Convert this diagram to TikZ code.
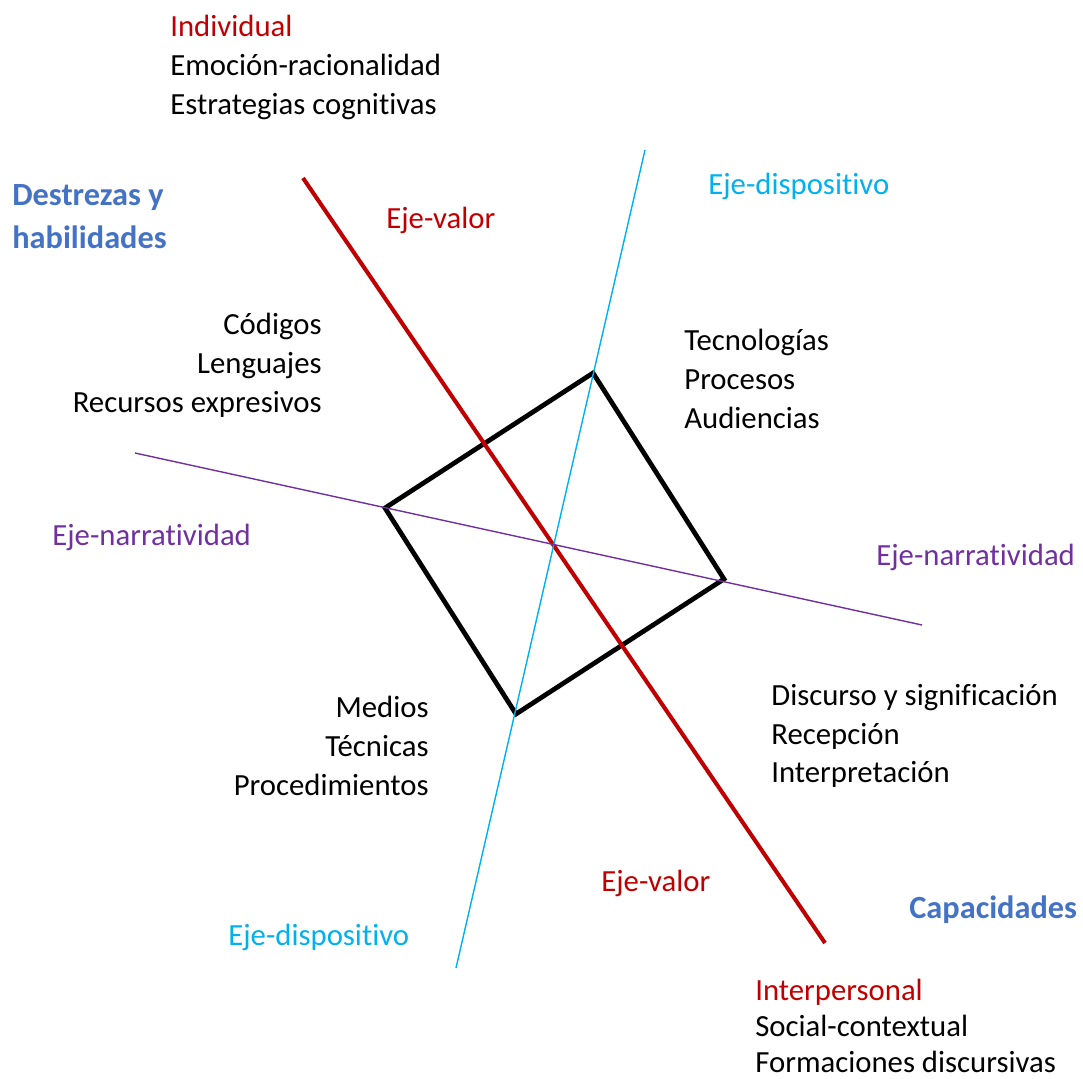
\documentclass[tikz,border=0pt]{standalone}
\usepackage{fontspec}
\setmainfont{Carlito}[Ligatures=NoCommon]
\definecolor{AxisRed}{HTML}{C00000}
\definecolor{AxisBlue}{HTML}{00B0F0}
\definecolor{AxisPurple}{HTML}{7030A0}
\definecolor{TitleBlue}{HTML}{4472C4}
\tikzset{
  % Text styles
  itemtext/.style={inner sep=0pt, font=\fontsize{17.5}{22}\selectfont, align=left, anchor=north west},
  itemtextr/.style={itemtext, align=right, anchor=north east},
  axislabel/.style={inner sep=0pt, font=\fontsize{17.5}{22}\selectfont, anchor=base west},
  titletext/.style={itemtext, font=\fontsize{18.4}{24.4}\selectfont\bfseries, text=TitleBlue},
  % Line styles
  valueaxis/.style={AxisRed, line width=2.3pt},
  deviceaxis/.style={AxisBlue, line width=0.8pt},
  narrativeaxis/.style={AxisPurple, line width=0.8pt},
  squareline/.style={black, line width=2.7pt, line join=miter}
}
\begin{document}
\begin{tikzpicture}[x=0.02cm, y=-0.02cm]
  \useasboundingbox (0,0) rectangle (1083,1079);
  % Square
  \coordinate (sqtop) at (593,373);
  \coordinate (sqright) at (724,579);
  \coordinate (sqbottom) at (516,714);
  \coordinate (sqleft) at (385,508);
  \draw[squareline] (sqtop) -- (sqright) -- (sqbottom) -- (sqleft) -- cycle;

  % Axes
  \coordinate (valstart) at (303,178);
  \coordinate (valend) at (825,943);
  \coordinate (devstart) at (645,150);
  \coordinate (devend) at (456,968);
  \coordinate (narstart) at (135,453);
  \coordinate (narend) at (922,625);
  \draw[valueaxis] (valstart) -- (valend);
  \draw[deviceaxis] (devstart) -- (devend);
  \draw[narrativeaxis] (narstart) -- (narend);

  % Axis labels
  \node[axislabel, text=AxisRed] (valtop) at (386,228) {Eje-valor};
  \node[axislabel, text=AxisRed] (valbot) at (601,891) {Eje-valor};
  \node[axislabel, text=AxisBlue] (devtop) at (708,194) {Eje-dispositivo};
  \node[axislabel, text=AxisBlue] (devbot) at (228,945) {Eje-dispositivo};
  \node[axislabel, text=AxisPurple] (narleft) at (52,545) {Eje-narratividad};
  \node[axislabel, text=AxisPurple] (narright) at (876,565) {Eje-narratividad};

  % Headings
  \node[titletext] (destrezas) at (12,184) {Destrezas y\\habilidades};
  \node[axislabel, font=\fontsize{18.4}{24.4}\selectfont\bfseries, text=TitleBlue] (capacidades) at (909,918) {Capacidades};

  % Item lists
  \node[itemtext] (individual) at (170,15) {{\color{AxisRed}Individual}\\Emoción-racionalidad\\Estrategias cognitivas};
  \node[itemtextr] (codigos) at (322,313) {Códigos\\Lenguajes\\Recursos expresivos};
  \node[itemtext] (tecnologias) at (684,329) {Tecnologías\\Procesos\\Audiencias};
  \node[itemtextr] (medios) at (429,696) {Medios\\Técnicas\\Procedimientos};
  \node[itemtext] (discurso) at (771,684) {Discurso y significación\\Recepción\\Interpretación};
  \node[itemtext, font=\fontsize{17.5}{20.4}\selectfont] (interpersonal) at (755,979) {{\color{AxisRed}Interpersonal}\\Social-contextual\\Formaciones discursivas};
\end{tikzpicture}
\end{document}
